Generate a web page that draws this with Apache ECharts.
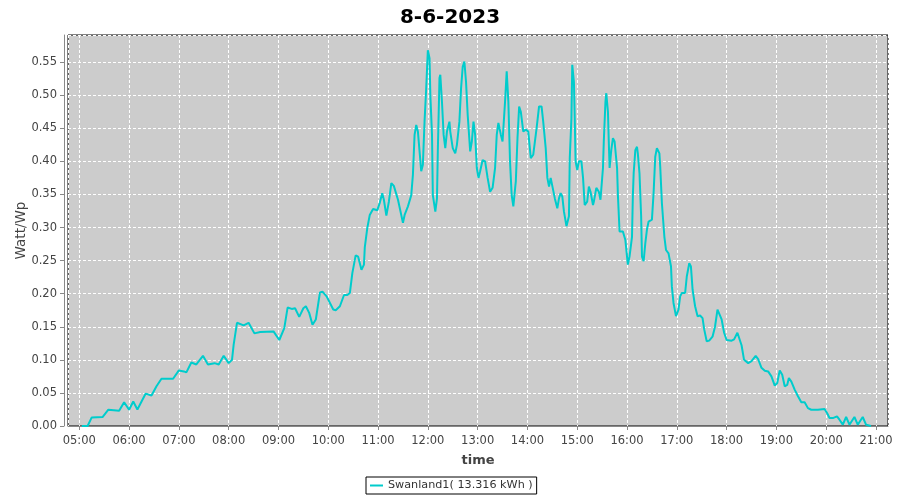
<!DOCTYPE html>
<html>
<head>
<meta charset="utf-8">
<script src="https://cdn.jsdelivr.net/npm/echarts@6/dist/echarts.min.js"></script>
<style>html,body{margin:0;padding:0;background:#fff}#c{width:900px;height:500px}</style>
</head>
<body>
<div id="c"></div>
<script>
var titleText = '8-6-2023';
var seriesName = 'Swanland1( 13.316 kWh )';
var yTickValues = [0, 0.05, 0.10, 0.15, 0.20, 0.25, 0.30, 0.35, 0.40, 0.45, 0.50, 0.55];
var xTickLabels = ['05:00','06:00','07:00','08:00','09:00','10:00','11:00','12:00','13:00','14:00','15:00','16:00','17:00','18:00','19:00','20:00','21:00'];

var times = [
'05:03','05:10','05:15','05:28','05:35','05:48','05:54','06:00','06:05','06:10','06:20','06:27','06:33','06:39','06:53',
'07:00','07:06','07:09','07:15','07:21','07:29','07:35','07:43','07:48','07:54','08:00','08:04','08:06','08:10','08:12',
'08:18','08:24','08:31','08:38','08:54','09:01','09:07','09:11','09:16','09:20','09:25','09:30','09:33','09:37','09:41',
'09:45','09:50','09:53','09:58','10:06','10:09','10:14','10:19','10:23','10:26','10:29','10:33','10:36','10:40','10:43',
'10:44','10:47','10:50','10:54','10:59','11:02','11:05','11:07','11:10','11:13','11:16','11:19','11:24','11:30','11:32',
'11:36','11:40','11:42','11:44','11:46','11:48','11:50','11:52','11:54','11:56','11:58','12:00','12:02','12:03','12:05',
'12:06','12:09','12:11','12:12','12:14','12:15','12:17','12:19','12:21','12:23','12:26','12:27','12:30','12:33','12:35',
'12:38','12:40','12:42','12:44','12:46','12:48','12:51','12:53','12:55','12:57','12:59','13:01','13:03','13:06','13:09',
'13:12','13:15','13:18','13:21','13:23','13:25','13:28','13:30','13:33','13:35','13:37','13:39','13:41','13:43','13:46',
'13:48','13:50','13:52','13:55','13:58','14:01','14:04','14:07','14:11','14:14','14:17','14:19','14:22','14:24','14:26',
'14:28','14:30','14:33','14:36','14:38','14:40','14:42','14:44','14:47','14:50','14:51','14:53','14:54','14:56','14:57',
'14:58','15:00','15:02','15:05','15:07','15:09','15:12','15:14','15:16','15:19','15:20','15:23','15:26','15:28','15:31',
'15:32','15:34','15:35','15:37','15:38','15:39','15:41','15:43','15:45','15:48','15:49','15:51','15:55','15:58','16:00',
'16:01','16:03','16:06','16:07','16:08','16:10','16:12','16:13','16:15','16:17','16:18','16:20','16:22','16:24','16:26',
'16:30','16:32','16:34','16:36','16:39','16:40','16:42','16:45','16:47','16:50','16:53','16:54','16:56','16:59','17:02',
'17:04','17:06','17:10','17:12','17:15','17:17','17:19','17:22','17:25','17:28','17:31','17:33','17:36','17:39','17:43',
'17:46','17:49','17:51','17:54','17:57','18:00','18:06','18:09','18:13','18:15','18:18','18:21','18:26','18:30','18:35',
'18:38','18:42','18:46','18:50','18:54','18:58','19:01','19:04','19:07','19:10','19:13','19:15','19:18','19:22','19:26',
'19:30','19:34','19:38','19:42','19:50','19:58','20:01','20:04','20:08','20:13','20:16','20:20','20:24','20:28','20:34',
'20:38','20:44','20:48','20:54'
];
var values = [
0,0,0.013,0.0136,0.0246,0.023,0.036,0.0246,0.037,0.025,0.049,0.046,0.06,0.0714,0.0714,
0.084,0.0825,0.081,0.096,0.093,0.106,0.093,0.095,0.093,0.106,0.095,0.1,0.123,0.156,0.157,
0.152,0.156,0.14,0.142,0.143,0.13,0.148,0.179,0.177,0.178,0.165,0.178,0.181,0.171,0.153,
0.161,0.202,0.203,0.196,0.176,0.175,0.181,0.198,0.198,0.201,0.231,0.258,0.256,0.236,0.244,
0.27,0.299,0.319,0.328,0.326,0.337,0.352,0.342,0.318,0.339,0.367,0.363,0.342,0.307,0.319,
0.332,0.349,0.38,0.44,0.455,0.445,0.415,0.385,0.395,0.46,0.51,0.568,0.556,0.5,0.44,
0.349,0.324,0.344,0.415,0.526,0.531,0.49,0.44,0.42,0.445,0.46,0.445,0.42,0.412,0.425,
0.46,0.51,0.543,0.551,0.52,0.47,0.415,0.43,0.46,0.44,0.39,0.375,0.385,0.402,0.4,
0.375,0.354,0.36,0.39,0.44,0.458,0.44,0.43,0.49,0.536,0.49,0.4,0.349,0.332,0.37,
0.435,0.483,0.475,0.445,0.448,0.445,0.405,0.41,0.45,0.483,0.483,0.46,0.42,0.375,0.362,
0.375,0.374,0.344,0.329,0.344,0.352,0.347,0.324,0.302,0.317,0.405,0.465,0.546,0.52,0.465,
0.4,0.387,0.4,0.4,0.375,0.334,0.339,0.362,0.354,0.334,0.339,0.36,0.354,0.342,0.39,
0.43,0.49,0.503,0.475,0.43,0.39,0.417,0.435,0.43,0.39,0.349,0.294,0.294,0.281,0.256,
0.244,0.256,0.286,0.347,0.382,0.417,0.422,0.412,0.382,0.317,0.256,0.249,0.276,0.297,0.309,
0.312,0.352,0.407,0.42,0.412,0.392,0.337,0.286,0.266,0.261,0.241,0.211,0.186,0.166,0.176,
0.196,0.201,0.201,0.226,0.246,0.241,0.206,0.181,0.166,0.167,0.163,0.146,0.128,0.129,0.135,
0.15,0.176,0.173,0.161,0.141,0.13,0.129,0.131,0.141,0.139,0.122,0.1,0.095,0.098,0.106,
0.101,0.088,0.0836,0.0825,0.075,0.061,0.065,0.084,0.0775,0.06,0.062,0.0725,0.067,0.055,0.045,
0.036,0.036,0.027,0.0246,0.0246,0.0257,0.0196,0.012,0.012,0.0145,0.0095,0.002,0.0136,0.002,0.0136,
0.002,0.0136,0.002,0
];

function toHours(t) { var p = t.split(':'); return (+p[0]) + (+p[1]) / 60; }
var data = times.map(function (t, i) { return [toHours(t), values[i]]; });

var FONT = 'DejaVu Sans';
var chart = echarts.init(document.getElementById('c'), null, { renderer: 'canvas' });
chart.setOption({
  animation: false,
  backgroundColor: '#ffffff',
  title: {
    text: titleText, left: 'center', top: 3,
    textStyle: { fontFamily: FONT, fontSize: 20, fontWeight: 'bold', color: '#000' }
  },
  legend: {
    left: 366, top: 477, padding: [3, 4, 3, 4],
    borderColor: '#000', borderWidth: 1, borderRadius: 0,
    icon: 'rect', itemWidth: 13, itemHeight: 2,
    textStyle: { fontFamily: FONT, fontSize: 11.2, color: '#333' },
    data: [seriesName]
  },
  grid: {
    left: 68, right: 12, top: 35, bottom: 74, show: true,
    backgroundColor: '#cccccc', borderColor: '#000', borderWidth: 1
  },
  xAxis: {
    type: 'value', min: 4.773, max: 21.241, minInterval: 1, maxInterval: 1, splitNumber: 16,
    offset: 4,
    name: 'time', nameLocation: 'middle', nameGap: 24,
    nameTextStyle: { fontFamily: FONT, fontSize: 13, fontWeight: 'bold', color: '#444' },
    axisLine: { show: true, lineStyle: { color: '#888', width: 1 } },
    axisTick: { show: true, length: 4, lineStyle: { color: '#888' } },
    axisLabel: {
      showMinLabel: false, showMaxLabel: false, margin: 5,
      fontFamily: FONT, fontSize: 11.5, color: '#444',
      formatter: function (v) {
        var i = xTickLabels.indexOf((v < 10 ? '0' : '') + v + ':00');
        return (Math.abs(v - Math.round(v)) < 1e-6 && i >= 0) ? xTickLabels[i] : '';
      }
    },
    splitLine: { show: true, lineStyle: { color: '#ffffff', width: 1, type: [3, 2] } }
  },
  yAxis: {
    type: 'value', min: 0, max: 0.591, interval: 0.05,
    offset: 4,
    name: 'Watt/Wp', nameLocation: 'middle', nameGap: 36, nameMoveOverlap: false,
    nameTextStyle: { fontFamily: FONT, fontSize: 13.5, color: '#444' },
    axisLine: { show: true, lineStyle: { color: '#888', width: 1 } },
    axisTick: { show: true, length: 4, lineStyle: { color: '#888' } },
    axisLabel: {
      showMaxLabel: false, margin: 7,
      fontFamily: FONT, fontSize: 11.5, color: '#444',
      formatter: function (v) {
        for (var k = 0; k < yTickValues.length; k++) {
          if (Math.abs(yTickValues[k] - v) < 1e-6) return yTickValues[k].toFixed(2);
        }
        return '';
      }
    },
    splitLine: { show: true, lineStyle: { color: '#ffffff', width: 1, type: [3, 2] } }
  },
  series: [{
    name: seriesName, type: 'line', data: data,
    showSymbol: false, symbol: 'none', smooth: false,
    lineStyle: { color: '#00cccc', width: 2 },
    itemStyle: { color: '#00cccc' }
  }]
});
</script>
</body>
</html>
